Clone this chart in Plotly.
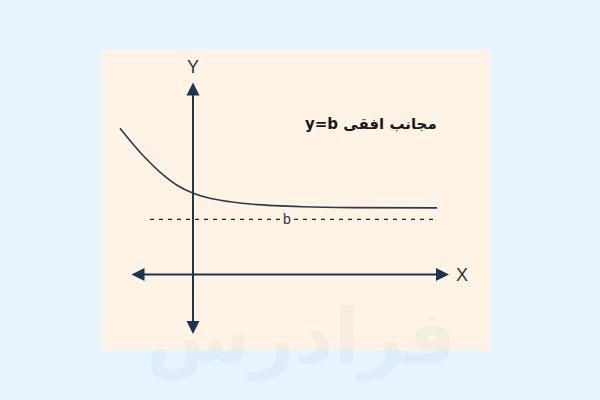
import plotly.graph_objects as go

# ---- data (math units, origin at the axes' crossing) ----
curve_x = [-1.825, -1.4925, -1.1575, -0.825, -0.4075, 0.0075, 0.425, 0.925, 1.5, 2.75, 4.0, 6.1]
curve_y = [3.655, 3.25, 2.88, 2.56, 2.2375, 2.03, 1.905, 1.82, 1.755, 1.695, 1.672, 1.665]
asym_x = [-1.075, 6.125]
asym_b = 1.38
x_axis_span = [-1.575, 6.4]
y_axis_span = [-1.525, 4.8]
title_text = "y=b مجانب افقی"
b_label = "b"
watermark = "فرادرس"

NAVY = "#1d3650"
fig = go.Figure()

# panel behind the drawing
fig.add_shape(type="rect", xref="x", yref="y", x0=-2.275, x1=7.425, y0=-1.8875, y1=5.6125,
              fillcolor="#fff3e6", line=dict(width=0), layer="below")

# asymptote
fig.add_trace(go.Scatter(x=asym_x, y=[asym_b, asym_b], mode="lines",
                         line=dict(color="#222222", width=1.3, dash="4px,5px"),
                         hoverinfo="skip", showlegend=False))
# curve
fig.add_trace(go.Scatter(x=curve_x, y=curve_y, mode="lines",
                         line=dict(color="#263c52", width=1.6, shape="spline", smoothing=1.0),
                         hoverinfo="skip", showlegend=False))

# axes with arrows
fig.add_annotation(x=x_axis_span[1], y=0, ax=x_axis_span[0], ay=0, xref="x", yref="y",
                   axref="x", ayref="y", showarrow=True, arrowhead=2, arrowside="end+start",
                   arrowwidth=2, arrowsize=1.3, arrowcolor=NAVY, text="")
fig.add_annotation(x=0, y=y_axis_span[1], ax=0, ay=y_axis_span[0], xref="x", yref="y",
                   axref="x", ayref="y", showarrow=True, arrowhead=2, arrowside="end+start",
                   arrowwidth=2, arrowsize=1.3, arrowcolor=NAVY, text="")

# faint watermark
fig.add_annotation(x=2.7, y=-1.55, text="<b>" + watermark + "</b>", showarrow=False,
                   font=dict(family="DejaVu Sans", size=76, color="rgba(120,150,180,0.07)"))

# labels
fig.add_annotation(x=0, y=5.1875, text="Y", showarrow=False,
                   font=dict(family="Liberation Sans, Arial", size=18, color="#333333"))
fig.add_annotation(x=6.72, y=0.0, text="X", showarrow=False,
                   font=dict(family="Liberation Sans, Arial", size=18, color="#333333"))
fig.add_annotation(x=2.35, y=asym_b, text=b_label, showarrow=False, bgcolor="#fff3e6",
                   borderpad=0, font=dict(family="Liberation Sans, Arial", size=14, color="#1d3650"))
fig.add_annotation(x=4.45, y=3.775, text="<b>" + title_text + "</b>", showarrow=False,
                   font=dict(family="DejaVu Sans, Noto Sans", size=15, color="#1a1a1a"))

fig.update_layout(
    width=600, height=400, margin=dict(l=0, r=0, t=0, b=0),
    paper_bgcolor="#e7f4fd", plot_bgcolor="rgba(0,0,0,0)",
    xaxis=dict(range=[-4.825, 10.175], visible=False, fixedrange=True),
    yaxis=dict(range=[-3.1375, 6.8625], visible=False, fixedrange=True),
)
fig.write_html("out.html", config={"displayModeBar": False},
               post_script="document.body.style.margin='0';")
